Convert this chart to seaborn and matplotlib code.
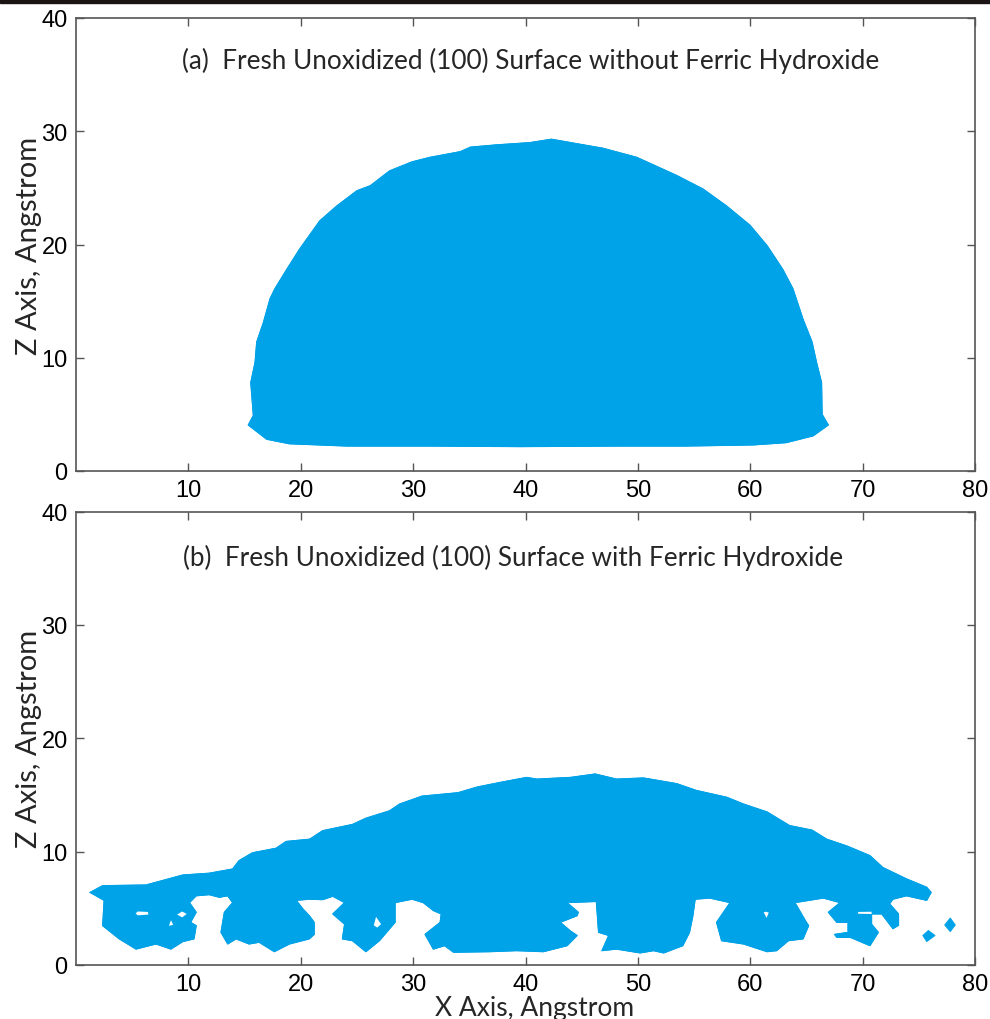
import matplotlib
matplotlib.use("Agg")
import matplotlib.pyplot as plt
from matplotlib.patches import Rectangle
import seaborn as sns
import pandas as pd

# ---------------- data (Angstrom) ----------------
# panel (a): outline of droplet, clockwise from lower-left corner
a_x = [15.33, 15.78, 15.55, 15.93, 16.08, 16.67, 17.26, 17.7, 18.75, 19.9, 21.7, 23.2,
       25.0, 26.2, 27.9, 29.9, 31.5, 34.2, 35.1, 37.4, 40.4, 42.3, 44.25, 46.9, 49.9,
       53.45, 55.8, 57.9, 59.98, 61.5, 62.9, 63.8, 64.7, 65.5, 65.9, 66.35, 66.4, 66.95,
       65.6, 63.2, 60.3, 54.3, 48.4, 39.5, 31.5, 24.1, 19.0, 16.97]
a_z = [4.06, 4.9, 7.8, 9.6, 11.4, 13.1, 15.2, 16.1, 17.8, 19.6, 22.1, 23.4,
       24.75, 25.2, 26.5, 27.3, 27.7, 28.2, 28.6, 28.8, 29.0, 29.3, 28.96, 28.5, 27.7,
       26.1, 24.9, 23.4, 21.7, 19.9, 17.8, 16.1, 13.4, 11.4, 9.6, 7.8, 5.0, 4.06,
       3.1, 2.5, 2.3, 2.2, 2.2, 2.15, 2.2, 2.2, 2.4, 2.8]

# panel (b): upper surface, left to right
b_top_x = [1.25, 2.37, 6.23, 7.12, 9.5, 11.86, 13.94, 14.5, 15.7, 17.8, 18.7, 20.8, 21.95,
           24.6, 25.8, 27.9, 28.8, 30.8, 34.0, 35.7, 37.7, 40.1, 41.0, 44.0, 46.2, 48.1,
           50.5, 53.45, 55.2, 57.9, 59.4, 61.5, 63.5, 65.5, 66.8, 68.6, 70.65, 71.8, 73.9,
           75.7, 76.1]
b_top_z = [6.4, 7.0, 7.06, 7.3, 7.94, 8.1, 8.47, 9.2, 9.9, 10.3, 10.9, 11.1, 11.85,
           12.4, 12.95, 13.6, 14.2, 14.9, 15.2, 15.7, 16.1, 16.55, 16.4, 16.55, 16.85, 16.4,
           16.5, 16.0, 15.4, 14.8, 14.2, 13.5, 12.3, 11.9, 11.1, 10.5, 9.65, 8.6, 7.6,
           6.86, 6.4]
# panel (b): lower surface (legs and gaps), right to left
b_bot_x = [75.7, 73.9, 72.7, 72.4, 73.2, 73.2, 72.7, 71.7, 70.8, 70.8, 71.4, 70.65, 68.9,
           67.7, 67.5, 68.7, 68.7, 67.7, 66.95, 67.99, 66.5, 63.98, 65.0, 65.2, 64.7, 63.4,
           62.35, 61.5, 59.4, 57.45, 57.0, 58.2, 56.4, 55.1, 54.9, 54.6, 54.0, 52.3, 51.4,
           50.2, 48.1, 46.8, 47.4, 46.5, 46.3, 43.7, 44.7, 44.6, 43.1, 44.0, 44.6, 43.7,
           41.6, 39.2, 36.8, 33.6, 32.8, 31.8, 31.06, 32.4, 32.5, 31.8, 30.9, 29.9, 29.4,
           28.4, 28.4, 28.0, 27.0, 25.8, 24.6, 23.7, 23.9, 22.85, 23.9, 22.85, 21.95, 20.76,
           19.6, 20.2, 20.76, 21.2, 21.2, 20.76, 19.0, 17.65, 16.3, 15.4, 14.24, 13.5, 12.9,
           13.2, 13.94, 13.5, 12.75, 11.86, 10.7, 10.1, 10.7, 10.2, 10.7, 10.5, 9.5, 8.45,
           7.12, 5.34, 3.85, 2.37, 2.5]
b_bot_z = [5.7, 6.1, 5.8, 5.4, 4.5, 3.5, 3.2, 4.5, 4.5, 3.6, 2.88, 1.7, 2.44,
           2.44, 2.7, 2.88, 3.76, 3.76, 4.65, 5.5, 5.9, 5.5, 3.76, 3.47, 2.3, 2.14,
           1.26, 1.17, 1.85, 2.14, 3.76, 5.5, 5.9, 5.8, 4.35, 2.88, 1.7, 1.06, 1.26,
           1.06, 1.4, 1.26, 2.6, 2.88, 5.6, 5.5, 4.65, 4.35, 3.76, 3.0, 2.6, 1.7,
           1.17, 1.26, 1.17, 1.12, 1.7, 1.4, 2.7, 3.76, 4.5, 4.8, 5.5, 5.8, 5.7,
           5.5, 3.76, 3.3, 2.14, 1.17, 2.14, 2.3, 3.6, 4.5, 5.5, 6.06, 5.76, 5.8,
           5.7, 4.94, 4.35, 3.76, 2.7, 2.3, 1.85, 1.17, 2.0, 1.85, 2.3, 1.85, 2.88,
           4.65, 5.5, 6.1, 5.97, 6.2, 6.1, 5.5, 4.65, 3.76, 3.47, 2.3, 2.06, 1.4,
           1.85, 1.4, 2.3, 3.47, 5.7]

# panel (b): small voids inside the film
hole1_x = [5.3, 5.5, 6.4, 6.45, 5.5]
hole1_z = [4.55, 4.72, 4.68, 4.45, 4.38]
hole2_x = [9.0, 9.45, 9.85, 9.45]
hole2_z = [4.45, 4.72, 4.5, 4.2]
hole3_x = [8.3, 8.45, 8.65, 8.3]
hole3_z = [3.55, 3.95, 3.55, 3.45]
hole4_x = [26.5, 26.7, 27.15, 26.8]
hole4_z = [3.5, 4.25, 3.6, 3.3]
hole5_x = [61.2, 61.4, 61.65, 61.45]
hole5_z = [4.65, 4.7, 4.62, 4.15]
hole6_x = [69.6, 70.8, 70.8, 69.6]
hole6_z = [4.52, 4.5, 4.7, 4.68]

# panel (b): detached droplets at right
isl1_x = [77.3, 77.8, 78.25, 77.8]
isl1_z = [3.53, 4.15, 3.53, 2.94]
isl2_x = [75.35, 75.85, 76.45, 75.7]
isl2_z = [2.6, 3.05, 2.6, 2.06]

title_a = "(a)  Fresh Unoxidized (100) Surface without Ferric Hydroxide"
title_b = "(b)  Fresh Unoxidized (100) Surface with Ferric Hydroxide"
xlabel = "X Axis, Angstrom"
ylabel = "Z Axis, Angstrom"
xticks = [10, 20, 30, 40, 50, 60, 70, 80]
yticks = [0, 10, 20, 30, 40]

# ---------------- style ----------------
sns.set_theme(style="white")
BLUE = "#00A2E8"
SPINE = "#555555"
LABEL_FONT = ["Lato", "DejaVu Sans"]
TICK_FONT = ["Liberation Sans", "DejaVu Sans"]

fig = plt.figure(figsize=(9.9, 10.2), dpi=100)
W, H = 990.0, 1020.0
ax1 = fig.add_axes([76 / W, 1 - 472 / H, 899 / W, 453 / H])
ax2 = fig.add_axes([76 / W, 1 - 966 / H, 899 / W, 453.5 / H])

# dark strip along the top edge of the image
fig.add_artist(Rectangle((0, 1 - 3.5 / H), 1, 3.5 / H, transform=fig.transFigure,
                         color="#1c1414", zorder=10))


def style_axes(ax):
    ax.set_xlim(0, 80)
    ax.set_ylim(0, 40)
    ax.set_xticks(xticks)
    ax.set_yticks(yticks)
    ax.tick_params(direction="in", length=6, width=1.0, color=SPINE,
                   top=True, right=True, bottom=True, left=True,
                   labelsize=17, labelcolor="black", pad=6)
    for lab in ax.get_xticklabels() + ax.get_yticklabels():
        lab.set_family(TICK_FONT)
    for s in ax.spines.values():
        s.set_visible(True)
        s.set_color(SPINE)
        s.set_linewidth(1.2)
    ax.set_facecolor("white")


def draw_poly(ax, xs, zs, color):
    ax.fill(xs, zs, color=color, lw=0.6, ec=color, zorder=2)


# ---- panel (a)
draw_poly(ax1, a_x, a_z, BLUE)
df_a = pd.DataFrame({"x": a_x + a_x[:1], "z": a_z + a_z[:1]})
sns.lineplot(data=df_a, x="x", y="z", sort=False, estimator=None, ax=ax1,
             color=BLUE, lw=0.8, zorder=3)
style_axes(ax1)
ax1.set_xlabel("")
ax1.set_ylabel(ylabel, fontsize=21, family=LABEL_FONT)
ax1.yaxis.set_label_coords(-0.038, 0.5)
ax1.text(9.4, 36.3, title_a, fontsize=18.8, family=LABEL_FONT, va="center", ha="left")

# ---- panel (b)
b_x = b_top_x + b_bot_x
b_z = b_top_z + b_bot_z
draw_poly(ax2, b_x, b_z, BLUE)
df_b = pd.DataFrame({"x": b_x + b_x[:1], "z": b_z + b_z[:1]})
sns.lineplot(data=df_b, x="x", y="z", sort=False, estimator=None, ax=ax2,
             color=BLUE, lw=0.8, zorder=3)
for hx, hz in [(hole1_x, hole1_z), (hole2_x, hole2_z), (hole3_x, hole3_z),
               (hole4_x, hole4_z), (hole5_x, hole5_z), (hole6_x, hole6_z)]:
    ax2.fill(hx, hz, color="white", lw=0, zorder=4)
for ix, iz in [(isl1_x, isl1_z), (isl2_x, isl2_z)]:
    draw_poly(ax2, ix, iz, BLUE)
style_axes(ax2)
ax2.set_xlabel(xlabel, fontsize=19, family=LABEL_FONT)
ax2.xaxis.set_label_coords(0.51, -0.067)
ax2.set_ylabel(ylabel, fontsize=21, family=LABEL_FONT)
ax2.yaxis.set_label_coords(-0.038, 0.5)
ax2.text(9.5, 36.0, title_b, fontsize=18.8, family=LABEL_FONT, va="center", ha="left")

fig.savefig("out.png", dpi=100)
